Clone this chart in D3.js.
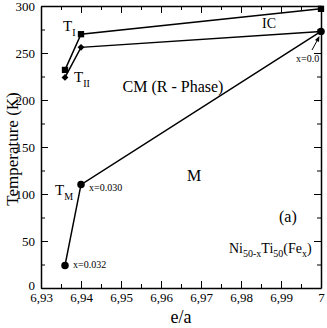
<!DOCTYPE html>
<html>
<head>
<meta charset="utf-8">
<script src="https://cdn.jsdelivr.net/npm/d3@7"></script>
<style>
  body { margin: 0; background: #fff; }
  text { font-family: "Liberation Serif", "Times New Roman", serif; fill: #000; }
</style>
</head>
<body>
<svg id="chart" width="327" height="328"></svg>
<script>
// data
var eaTI = [6.936, 6.94, 7.0];
var tempTI = [232, 270, 297];
var eaTII = [6.936, 6.94, 7.0];
var tempTII = [224, 256, 273];
var eaTM = [6.936, 6.94, 7.0];
var tempTM = [24, 110, 273];
var xTicks = [6.93, 6.94, 6.95, 6.96, 6.97, 6.98, 6.99, 7.0];
var xTickLabels = ['6,93', '6,94', '6,95', '6,96', '6,97', '6,98', '6,99', '7'];
var yTicks = [0, 50, 100, 150, 200, 250, 300];

var svg = d3.select('#chart');
var margin = {left: 41, right: 6, top: 6, bottom: 40};
var width = 327 - margin.left - margin.right;
var height = 328 - margin.top - margin.bottom;

var x = d3.scaleLinear().domain([6.93, 7.0]).range([0, width]);
var y = d3.scaleLinear().domain([0, 300]).range([height, 0]);

var g = svg.append('g').attr('transform', 'translate(' + margin.left + ',' + margin.top + ')');

// minor tick values
var xMinor = d3.range(0, 15).map(function (i) { return 6.93 + i * 0.005; });
var yMinor = d3.range(0, 13).map(function (i) { return i * 25; });

function styleAxis(sel) {
  sel.selectAll('path').attr('stroke', '#000').attr('stroke-width', 1.5);
  sel.selectAll('line').attr('stroke', '#000').attr('stroke-width', 1);
}

// bottom
var bx = g.append('g').attr('transform', 'translate(0,' + height + ')')
  .call(d3.axisBottom(x).tickValues(xTicks).tickSizeInner(-7).tickSizeOuter(0)
    .tickFormat(function (d, i) { return xTickLabels[i]; }));
bx.selectAll('text').attr('font-size', 13).attr('dy', null).attr('y', 14);
styleAxis(bx);
g.append('g').attr('transform', 'translate(0,' + height + ')')
  .call(d3.axisBottom(x).tickValues(xMinor).tickSizeInner(-4).tickSizeOuter(0).tickFormat(''))
  .call(styleAxis).select('path').remove();

// top
g.append('g')
  .call(d3.axisTop(x).tickValues(xTicks).tickSizeInner(-7).tickSizeOuter(0).tickFormat(''))
  .call(styleAxis);
g.append('g')
  .call(d3.axisTop(x).tickValues(xMinor).tickSizeInner(-4).tickSizeOuter(0).tickFormat(''))
  .call(styleAxis).select('path').remove();

// left
var ly = g.append('g')
  .call(d3.axisLeft(y).tickValues(yTicks).tickSizeInner(-7).tickSizeOuter(0));
ly.selectAll('text').attr('font-size', 13).attr('x', -6)
  .attr('dy', function (d) { return d === 0 ? '0.1em' : '0.32em'; });
styleAxis(ly);
g.append('g')
  .call(d3.axisLeft(y).tickValues(yMinor).tickSizeInner(-4).tickSizeOuter(0).tickFormat(''))
  .call(styleAxis).select('path').remove();

// right
g.append('g').attr('transform', 'translate(' + width + ',0)')
  .call(d3.axisRight(y).tickValues(yTicks).tickSizeInner(-7).tickSizeOuter(0).tickFormat(''))
  .call(styleAxis);
g.append('g').attr('transform', 'translate(' + width + ',0)')
  .call(d3.axisRight(y).tickValues(yMinor).tickSizeInner(-4).tickSizeOuter(0).tickFormat(''))
  .call(styleAxis).select('path').remove();

// axis titles
svg.append('text').attr('x', margin.left + width / 2).attr('y', 323)
  .attr('text-anchor', 'middle').attr('font-size', 18).text('e/a');
svg.append('text').attr('transform', 'translate(18,149) rotate(-90)')
  .attr('text-anchor', 'middle').attr('font-size', 17).text('Temperature (K)');

var line = d3.line().x(function (d) { return x(d[0]); }).y(function (d) { return y(d[1]); });

function series(xs, ys, shape, size) {
  var pts = xs.map(function (v, i) { return [v, ys[i]]; });
  g.append('path').datum(pts).attr('d', line)
    .attr('fill', 'none').attr('stroke', '#000').attr('stroke-width', 1.5);
  g.selectAll(null).data(pts).enter().append('path')
    .attr('transform', function (d) { return 'translate(' + x(d[0]) + ',' + y(d[1]) + ')'; })
    .attr('d', d3.symbol().type(shape).size(size))
    .attr('fill', '#000');
}

series(eaTI, tempTI, d3.symbolSquare, 40);
series(eaTII, tempTII, d3.symbolDiamond2, 30);
series(eaTM, tempTM, d3.symbolCircle, 44);

// annotations
function sub(xp, yp, main, s, size) {
  var t = svg.append('text').attr('x', xp).attr('y', yp).attr('font-size', size);
  t.append('tspan').text(main);
  t.append('tspan').attr('font-size', 10).attr('dy', 5).text(s);
  return t;
}
sub(63, 31, 'T', 'I', 15);
sub(74, 82, 'T', 'II', 15);
sub(55, 195, 'T', 'M', 15);

svg.append('text').attr('x', 262).attr('y', 28).attr('font-size', 14).text('IC');
svg.append('text').attr('x', 173).attr('y', 92).attr('text-anchor', 'middle').attr('font-size', 16).text('CM (R - Phase)');
svg.append('text').attr('x', 194).attr('y', 181).attr('text-anchor', 'middle').attr('font-size', 16).text('M');
svg.append('text').attr('x', 89).attr('y', 191).attr('font-size', 10).text('x=0.030');
svg.append('text').attr('x', 73).attr('y', 268).attr('font-size', 10).text('x=0.032');
svg.append('text').attr('x', 296).attr('y', 62).attr('font-size', 10).text('x=0.0');
svg.append('line').attr('x1', 312).attr('y1', 50).attr('x2', 318).attr('y2', 39)
  .attr('stroke', '#000').attr('stroke-width', 1);
svg.append('path').attr('d', 'M319.5,36 L315,40 L319,42 Z').attr('fill', '#000');
svg.append('text').attr('x', 279).attr('y', 222).attr('font-size', 16).text('(a)');

var ni = svg.append('text').attr('x', 229).attr('y', 253).attr('font-size', 14);
ni.append('tspan').text('Ni');
ni.append('tspan').attr('font-size', 10).attr('dy', 4).text('50-x');
ni.append('tspan').attr('dy', -4).text('Ti');
ni.append('tspan').attr('font-size', 10).attr('dy', 4).text('50');
ni.append('tspan').attr('dy', -4).text('(Fe');
ni.append('tspan').attr('font-size', 10).attr('dy', 4).text('x');
ni.append('tspan').attr('dy', -4).text(')');
</script>
</body>
</html>
